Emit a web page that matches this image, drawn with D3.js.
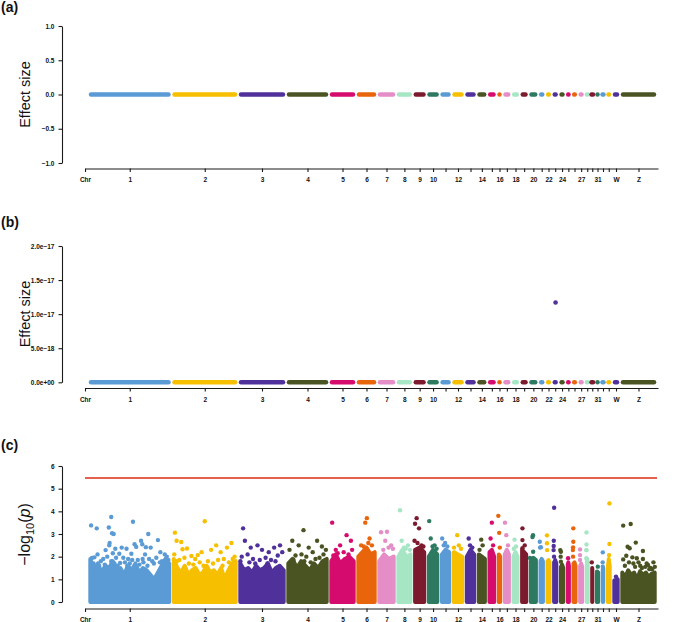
<!DOCTYPE html>
<html>
<head>
<meta charset="utf-8">
<script src="https://cdn.jsdelivr.net/npm/d3@7"></script>
<style>
  body { margin: 0; background: #fff; }
  svg { display: block; font-family: "Liberation Sans", Arial, sans-serif; }
</style>
</head>
<body>
<div id="chart"></div>
<script>
// chromosomes in plot order and their widths on the x axis (SNP index units)
const chroms = ["1","2","3","4","5","6","7","8","9","10","11","12","13","14","15","16","17","18","19","20",
                "21","22","23","24","25","26","27","28","30","31","32","33","W","Z"];
const chrSize = [83.5, 66.5, 48, 43, 27, 21, 19, 16.8, 13.7, 13.1, 11.9, 13, 12, 10.7, 9.3, 6, 8.7, 8.6, 8.7, 9.7,
                 7, 6.6, 6.8, 6.9, 5.7, 6.6, 6.7, 5.5, 4.5, 6, 5, 6.5, 8, 37];
const shownLabels = ["1","2","3","4","5","6","7","8","9","10","12","14","16","18","20","22","24","27","31","W","Z"];

const palette = ["#5B9BD5", "#F6BF00", "#50309A", "#4A5322", "#D60B6E",
                 "#E8650C", "#E48DC6", "#A7E6C5", "#7C1B2D", "#2D7A60"];

// panel (a)/(b) y ticks
const ticksA = [-1, -0.5, 0, 0.5, 1];
const labelsA = ["\u22121.0", "\u22120.5", "0.0", "0.5", "1.0"];
const ticksB = [0, 5e-18, 1e-17, 1.5e-17, 2e-17];
const labelsB = ["0.0e+00", "5.0e\u221218", "1.0e\u221217", "1.5e\u221217", "2.0e\u221217"];
const bOutlier = [["23", 0.6, 1.17e-17]];

// panel (c)
const ticksC = [0, 1, 2, 3, 4, 5, 6];
const threshold = 5.47;

// top of the dense band of points, read along each chromosome
const cBulk = [
  [1.9, 1.4, 1.7, 1.3, 1.6, 1.5, 1.8, 1.4, 1.5, 1.2, 1.6, 1.4, 1.7, 1.3, 1.5, 1.4, 1.2, 1.0, 1.3, 1.6, 1.9, 1.7],
  [1.9, 1.5, 1.3, 1.6, 1.2, 1.4, 1.5, 1.2, 1.3, 1.6, 1.3, 1.4, 1.2, 1.5, 1.0, 1.4, 1.7, 1.8],
  [1.7, 1.4, 1.5, 1.3, 1.6, 1.4, 1.5, 1.7, 1.3, 1.5, 1.6, 1.4],
  [1.7, 1.9, 1.5, 1.8, 1.6, 1.4, 1.7, 1.5, 1.8, 1.9],
  [1.8, 2.1, 1.7, 1.9, 2.0, 1.8],
  [2.0, 2.2, 2.4, 2.1, 2.2],
  [1.8, 2.1, 1.9, 2.0],
  [2.0, 2.3, 2.0, 2.1],
  [2.3, 2.4, 2.2],
  [2.0, 2.3, 2.1],
  [2.1, 2.3, 2.2],
  [2.2, 2.1, 2.0],
  [2.0, 2.3, 2.1],
  [2.1, 2.0, 1.9],
  [2.2, 2.3, 2.0],
  [2.1, 2.0],
  [2.1, 2.3, 2.1],
  [2.0, 2.2, 2.0],
  [2.3, 2.2, 2.1],
  [1.8, 1.95, 1.85],
  [1.8, 1.9, 1.8],
  [1.8, 1.85, 1.75],
  [1.75, 1.85, 1.7],
  [1.55, 1.65, 1.5],
  [1.65, 1.75, 1.6],
  [1.7, 1.75, 1.6],
  [1.6, 1.7, 1.55],
  [1.8, 1.9, 1.75],
  [1.45, 1.5],
  [1.25, 1.3],
  [1.45, 1.5],
  [1.5, 1.9, 1.6],
  [0.95, 1.0],
  [1.3, 1.1, 1.4, 1.2, 1.3, 1.0, 1.35, 1.2, 1.3, 1.1, 1.25, 1.3]
];

// scattered SNPs above the band: [chromosome, position along it (0-1), -log10(p)]
const cPeaks = [
  ["1",.02,3.38],["1",.09,3.25],["1",.27,3.75],["1",.24,3.29],["1",.28,3.03],["1",.30,3.0],["1",.54,3.54],["1",.73,3.0],
  ["1",.03,1.94],["1",.06,1.97],["1",.10,2.1],["1",.20,2.29],["1",.25,2.6],["1",.245,2.5],["1",.32,2.35],["1",.29,2.15],
  ["1",.40,2.4],["1",.46,2.35],["1",.37,2.13],["1",.52,2.13],["1",.56,2.55],["1",.58,2.43],["1",.64,2.7],["1",.655,2.55],
  ["1",.70,2.42],["1",.76,2.4],["1",.69,2.1],["1",.85,2.73],["1",.875,1.75],["1",.90,1.8],["1",.96,2.0],["1",.935,2.1],
  ["1",.38,1.72],["1",.22,2.0],["1",.14,1.8],["1",.48,1.9],["1",.60,1.85],["1",.80,1.7],["1",.12,1.6],["1",.33,1.95],
  ["1",.44,1.75],["1",.66,1.9],["1",.92,1.55],["1",.05,1.7],["1",.17,1.9],["1",.19,1.65],["1",.27,1.8],["1",.35,1.6],
  ["1",.42,1.95],["1",.50,1.7],["1",.53,1.85],["1",.62,1.65],["1",.67,1.75],["1",.72,1.6],["1",.74,1.9],["1",.78,1.8],
  ["1",.83,1.95],["1",.88,2.2],["1",.98,1.85],["1",.08,1.55],["1",.31,1.7],["1",.47,1.6],
  ["2",.03,3.06],["2",.50,3.56],["2",.057,2.7],["2",.13,2.65],["2",.15,2.33],["2",.22,2.36],["2",.29,2.03],["2",.39,2.07],
  ["2",.02,2.1],["2",.6,2.3],["2",.68,2.5],["2",.75,2.2],["2",.85,2.4],["2",.92,2.6],["2",.45,2.2],["2",.35,1.9],
  ["2",.1,1.85],["2",.25,1.7],["2",.55,1.8],["2",.8,1.9],["2",.97,2.0],["2",.06,1.8],["2",.18,1.95],["2",.32,1.65],
  ["2",.42,1.75],["2",.48,1.6],["2",.63,1.7],["2",.71,1.85],["2",.78,1.6],["2",.88,1.75],["2",.94,1.9],
  ["3",.08,3.25],["3",.12,2.7],["3",.25,2.4],["3",.4,2.5],["3",.5,2.3],["3",.65,2.2],["3",.77,2.4],["3",.9,2.5],
  ["3",.05,2.0],["3",.18,2.1],["3",.3,1.9],["3",.58,1.95],["3",.7,1.85],["3",.85,2.05],["3",.95,2.2],["3",.22,1.75],
  ["3",.35,1.7],["3",.45,1.85],["3",.62,1.7],["3",.8,1.8],["3",.02,1.8],
  ["4",.4,3.17],["4",.12,2.7],["4",.28,2.5],["4",.74,2.7],["4",.86,2.45],["4",.53,2.4],["4",.05,2.3],["4",.63,2.2],
  ["4",.2,2.05],["4",.35,2.1],["4",.47,2.0],["4",.9,2.1],["4",.96,2.3],["4",.15,1.85],["4",.42,1.8],["4",.58,1.75],
  ["4",.7,1.9],["4",.8,1.95],
  ["5",.07,3.5],["5",.67,2.95],["5",.85,2.7],["5",.4,2.5],["5",.22,2.3],["5",.55,2.2],["5",.9,2.3],["5",.3,2.15],
  ["5",.12,2.05],["5",.75,2.1],
  ["6",.52,3.7],["6",.43,3.5],["6",.67,2.8],["6",.2,2.5],["6",.8,2.5],["6",.35,2.45],["6",.6,2.6],
  ["7",.53,3.1],["7",.16,3.08],["7",.42,2.7],["7",.79,2.5],["7",.63,2.4],["7",.3,2.3],["7",.9,2.35],
  ["8",.18,4.05],["8",.3,2.7],["8",.47,2.4],["8",.76,2.5],["8",.6,2.35],["8",.9,2.3],
  ["9",.22,3.7],["9",.07,3.45],["9",.44,3.25],["9",.02,2.7],["9",.67,2.5],["9",.3,2.6],["9",.85,2.45],
  ["10",.12,3.57],["10",.27,2.8],["10",.65,2.5],["10",.45,2.45],["10",.85,2.35],
  ["11",.12,2.8],["11",.45,2.6],["11",.7,2.45],["11",.3,2.5],
  ["12",.42,2.95],["12",.58,2.5],["12",.1,2.4],["12",.8,2.35],
  ["13",.3,2.8],["13",.45,2.5],["13",.7,2.4],
  ["14",.42,2.75],["14",.6,2.5],["14",.2,2.3],
  ["15",.5,3.5],["15",.3,2.8],["15",.7,2.5],
  ["16",.1,3.8],["16",.4,3.05],["16",.6,2.4],
  ["17",.17,3.5],["17",.4,2.95],["17",.7,2.5],
  ["18",.33,2.75],["18",.6,2.45],["18",.2,2.35],
  ["19",.2,3.25],["19",.2,2.73],["19",.2,2.37],["19",.6,2.5],
  ["20",.37,2.87],["20",.45,2.95],["20",.47,2.22],["20",.0,1.94],
  ["21",.02,2.66],["21",.1,2.4],["21",.3,2.42],
  ["22",.08,2.94],["22",.08,2.59],["22",.12,2.29],
  ["23",.22,4.16],["23",.13,2.7],["23",.1,2.47],["23",.08,2.29],["23",.2,2.0],
  ["24",.05,2.29],["24",.2,2.22],["24",.15,2.0],["24",.2,1.78],
  ["25",.4,1.93],
  ["26",.17,3.25],["26",.17,2.66],["26",.1,2.41],["26",.05,2.29],["26",.1,2.0],
  ["27",.2,2.32],["27",.2,2.07],["27",.2,1.85],
  ["28",.2,3.07],["28",.2,2.54],["28",.1,2.29],["28",.25,2.29],["28",.15,1.93],
  ["30",.2,1.75],
  ["31",.6,1.56],["31",.35,1.34],
  ["32",.4,2.19],["32",.35,1.75],["32",.4,1.56],
  ["33",.7,4.35],["33",.7,2.56],["33",.6,2.07],
  ["W",.5,1.12],
  ["Z",.05,3.37],["Z",.27,3.44],["Z",.42,2.62],["Z",.18,2.44],["Z",.24,2.37],["Z",.63,2.25],["Z",.14,2.04],["Z",.32,1.97],
  ["Z",.45,1.93],["Z",.63,1.9],["Z",.78,1.63],["Z",.94,1.75],["Z",.05,1.88],["Z",.55,1.6],["Z",.7,1.55],["Z",.85,1.5],
  ["Z",.35,1.7],["Z",.9,1.45],["Z",.1,1.6],["Z",.22,1.75],["Z",.4,1.55],["Z",.5,1.75],["Z",.6,1.5],["Z",.74,1.7],
  ["Z",.82,1.45],["Z",.98,1.55]
];

const WIDTH = 685, HEIGHT = 622;
const svg = d3.select("#chart").append("svg")
  .attr("width", WIDTH).attr("height", HEIGHT);

// cumulative start of every chromosome
const starts = [];
chrSize.reduce((acc, s, i) => { starts[i] = acc; return acc + s; }, 0);
const total = d3.sum(chrSize);
const idx = {};
chroms.forEach((c, i) => idx[c] = i);
const color = (i) => palette[i % palette.length];

const X = d3.scaleLinear().domain([-3, total + 1]).range([85, 658]);
const centers = chroms.map((c, i) => starts[i] + chrSize[i] / 2);
// position inside a chromosome, kept clear of its edges by `pad`
const pos = (c, f, pad = 1.5) => { const i = idx[c]; return starts[i] + pad + f * (chrSize[i] - 2 * pad); };

function xAxis(yPos) {
  const vals = [-3].concat(centers);
  const g = svg.append("g")
    .attr("transform", `translate(0,${yPos})`)
    .call(d3.axisBottom(X).tickValues(vals).tickSize(3.5).tickSizeOuter(0).tickPadding(5.4)
      .tickFormat((d, i) => i === 0 ? "Chr" : (shownLabels.includes(chroms[i - 1]) ? chroms[i - 1] : "")));
  styleAxis(g);
}

function yAxis(scale, vals, labels) {
  const g = svg.append("g")
    .attr("transform", "translate(62,0)")
    .call(d3.axisLeft(scale).tickValues(vals).tickSize(3.5).tickSizeOuter(0).tickPadding(4)
      .tickFormat((d, i) => labels[i]));
  styleAxis(g);
}

function styleAxis(g) {
  g.attr("font-family", "'Liberation Sans', Arial, sans-serif")
   .attr("font-size", 6.5).attr("font-weight", "bold");
  g.selectAll("path, line").attr("stroke", "#1a1a1a").attr("stroke-width", 1.1);
  g.selectAll("text").attr("fill", "#111");
}

function panelLabel(txt, y) {
  svg.append("text").attr("x", 1).attr("y", y)
    .attr("font-size", 14).attr("font-weight", "bold").attr("fill", "#111").text(txt);
}

function yTitle(y) {
  return svg.append("text")
    .attr("transform", `translate(29.5,${y}) rotate(-90)`)
    .attr("text-anchor", "middle").attr("font-size", 14.5).attr("fill", "#111");
}

// flat effect-size rows for panels (a) and (b)
function flatRow(yScale) {
  svg.append("g").selectAll("line")
    .data(chroms).enter().append("line")
      .attr("x1", (d, i) => X(starts[i]) + 3)
      .attr("x2", (d, i) => X(starts[i] + chrSize[i]) - 3)
      .attr("y1", yScale(0)).attr("y2", yScale(0))
      .attr("stroke", (d, i) => color(i))
      .attr("stroke-width", 4.5)
      .attr("stroke-linecap", "round");
}

// ---- panel (a)
const yA = d3.scaleLinear().domain([-1, 1]).range([163, 26]);
panelLabel("(a)", 11.5);
yTitle(94.5).text("Effect size");
yAxis(yA, ticksA, labelsA);
xAxis(168.5);
flatRow(yA);

// ---- panel (b)
const yB = d3.scaleLinear().domain([0, 2e-17]).range([382.3, 246]);
panelLabel("(b)", 227);
yTitle(314).text("Effect size");
yAxis(yB, ticksB, labelsB);
xAxis(388);
flatRow(yB);
svg.append("g").selectAll("circle")
  .data(bOutlier).enter().append("circle")
    .attr("cx", d => X(pos(d[0], d[1])))
    .attr("cy", d => yB(d[2]))
    .attr("r", 2.3)
    .attr("fill", d => color(idx[d[0]]));

// ---- panel (c)
const yC = d3.scaleLinear().domain([0, 6]).range([602, 466]);
panelLabel("(c)", 450);
const tC = yTitle(534.5).attr("font-size", 16);
tC.append("tspan").text("\u2212log");
tC.append("tspan").attr("font-size", 11).attr("dy", 4).text("10");
tC.append("tspan").attr("dy", -4).text("(");
tC.append("tspan").attr("font-style", "italic").text("p");
tC.append("tspan").text(")");
yAxis(yC, ticksC, ticksC.map(String));
xAxis(608.5);

const area = d3.area()
  .x(d => X(d[0])).y0(yC(0)).y1(d => yC(d[1]));

svg.append("g").selectAll("path")
  .data(cBulk).enter().append("path")
    .attr("d", (env, i) => area(env.map((v, j) => [pos(chroms[i], env.length > 1 ? j / (env.length - 1) : 0.5, 2.3), v])))
    .attr("fill", (d, i) => color(i))
    .attr("stroke", (d, i) => color(i))
    .attr("stroke-width", 4)
    .attr("stroke-linejoin", "round");

svg.append("g").selectAll("circle")
  .data(cPeaks).enter().append("circle")
    .attr("cx", d => X(pos(d[0], d[1])))
    .attr("cy", d => yC(d[2]))
    .attr("r", 2.2)
    .attr("fill", d => color(idx[d[0]]));

svg.append("line")
  .attr("x1", X(-3)).attr("x2", X(total))
  .attr("y1", yC(threshold)).attr("y2", yC(threshold))
  .attr("stroke", "#E5604E").attr("stroke-width", 1.8);
</script>
</body>
</html>
